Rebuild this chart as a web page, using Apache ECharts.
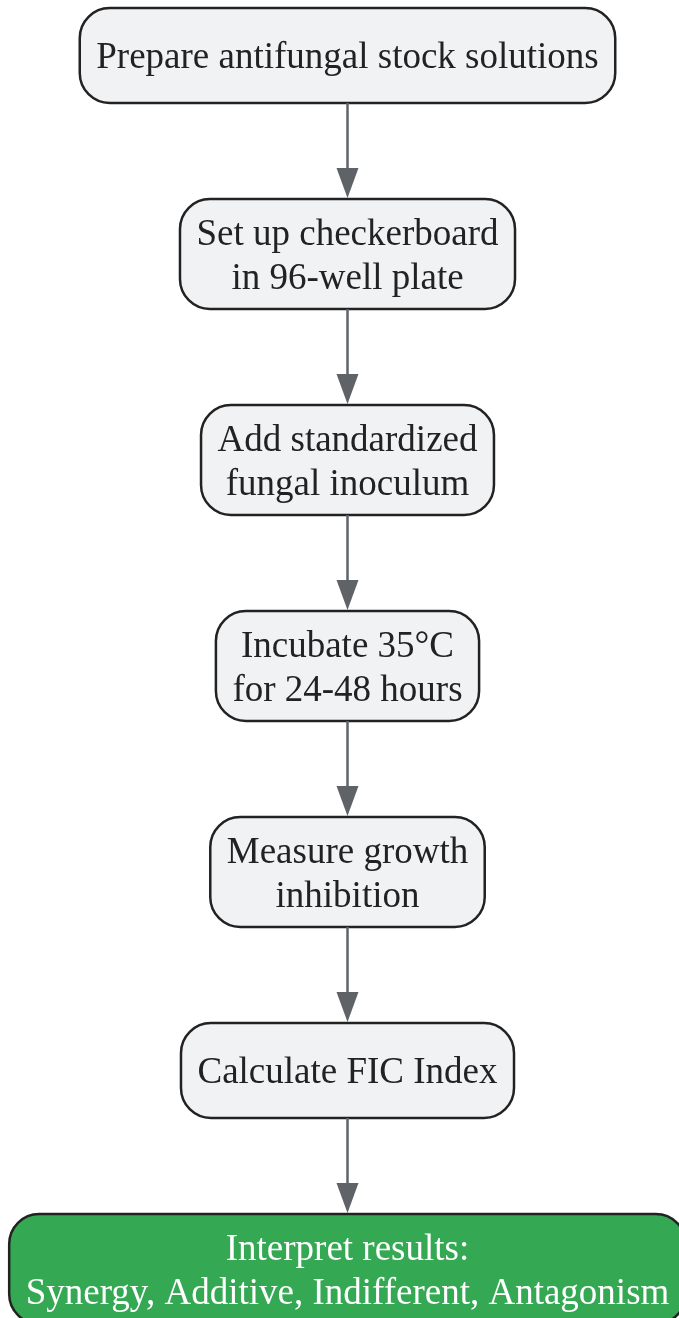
<!DOCTYPE html>
<html>
<head>
<meta charset="utf-8">
<script src="https://cdn.jsdelivr.net/npm/echarts@6/dist/echarts.min.js"></script>
<style>
html,body{margin:0;padding:0;background:#fff;}
#chart{width:679px;height:1318px;}
</style>
</head>
<body>
<div id="chart"></div>
<script>
// Flow steps (text of each node, top to bottom)
const steps = [
  "Prepare antifungal stock solutions",
  "Set up checkerboard\nin 96-well plate",
  "Add standardized\nfungal inoculum",
  "Incubate 35°C\nfor 24-48 hours",
  "Measure growth\ninhibition",
  "Calculate FIC Index",
  "Interpret results:\nSynergy, Additive, Indifferent, Antagonism"
];
// Node kind: "process" or "result"
const kinds = ["process","process","process","process","process","process","result"];

const W = 679, H = 1318;
const FONT_SIZE = 37;
const FONT = FONT_SIZE + 'px "Liberation Serif", "DejaVu Serif", serif';
const LINE_H = 44;
const PAD_X = 16.5;
const TOP0 = 8;
const GAP = 96;
const CX = 347.5;
const TEXT_DY = 3;

const ctx = document.createElement('canvas').getContext('2d');
ctx.font = FONT;
function textWidth(s){ return Math.max.apply(null, s.split('\n').map(l => ctx.measureText(l).width)); }

// layout (stacked vertically)
const layout = [];
let y = TOP0;
steps.forEach((s, i) => {
  const lines = s.split('\n').length;
  const h = Math.max(95, lines * 42 + 26);
  const w = textWidth(s) + 2 * PAD_X;
  layout.push({ top: y, h: h, w: w });
  y += h + GAP;
});

const chart = echarts.init(document.getElementById('chart'), null, { renderer: 'canvas' });
chart.setOption({
  animation: false,
  grid: { left: 0, right: 0, top: 0, bottom: 0 },
  xAxis: { type: 'value', min: 0, max: W, show: false },
  yAxis: { type: 'value', min: 0, max: H, inverse: true, show: false },
  series: [{
    type: 'custom',
    clip: false,
    data: steps.map((s, i) => [CX, i]),
    renderItem: function (params, api) {
      const i = params.dataIndex;
      const L = layout[i];
      const cx = api.value(0);
      const tl = api.coord([cx - L.w / 2, L.top]);
      const sz = api.size([L.w, L.h]);
      const isResult = kinds[i] === 'result';
      const children = [{
        type: 'rect',
        shape: { x: tl[0], y: tl[1], width: sz[0], height: sz[1], r: 30 },
        style: { fill: isResult ? '#34a853' : '#f1f2f4', stroke: '#222222', lineWidth: 2.5 }
      }, {
        type: 'text',
        style: {
          text: steps[i],
          x: tl[0] + sz[0] / 2,
          y: tl[1] + sz[1] / 2 + TEXT_DY,
          align: 'center',
          verticalAlign: 'middle',
          font: FONT,
          lineHeight: LINE_H,
          fill: isResult ? '#ffffff' : '#222222'
        }
      }];
      if (i < steps.length - 1) {
        const N = layout[i + 1];
        const p0 = api.coord([cx, L.top + L.h]);
        const p1 = api.coord([cx, N.top]);
        const headH = 31, headW = 11;
        children.push({
          type: 'line',
          shape: { x1: p0[0], y1: p0[1], x2: p1[0], y2: p1[1] - headH + 2 },
          style: { stroke: '#5f6368', lineWidth: 2.5 }
        });
        children.push({
          type: 'polygon',
          shape: { points: [[p1[0] - headW, p1[1] - headH], [p1[0] + headW, p1[1] - headH], [p1[0], p1[1] - 1]] },
          style: { fill: '#5f6368' }
        });
      }
      return { type: 'group', children: children };
    }
  }]
});
</script>
</body>
</html>
